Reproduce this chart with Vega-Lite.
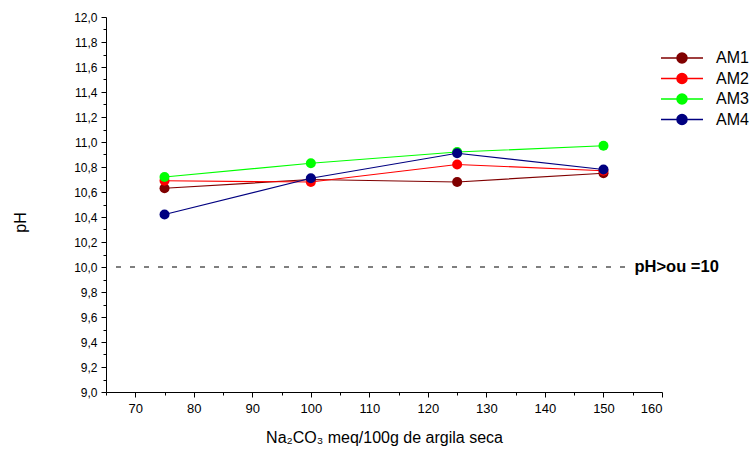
{
  "$schema": "https://vega.github.io/schema/vega-lite/v6.json",
  "width": 556,
  "height": 375,
  "autosize": {"type": "none"},
  "padding": {"left": 106, "top": 17, "right": 92, "bottom": 63},
  "background": "white",
  "config": {
    "view": {"stroke": null},
    "font": "Liberation Sans",
    "locale": {"number": {"decimal": ",", "thousands": ".", "grouping": [3], "currency": ["", ""]}},
    "axis": {"grid": false, "domainColor": "black", "tickColor": "black", "labelColor": "black", "titleColor": "black", "labelFont": "Liberation Sans", "titleFont": "Liberation Sans", "titleFontWeight": "normal"}
  },
  "datasets": {
    "pts": [
      {"amostra": "AM1", "x": 75, "ph": 10.63},
      {"amostra": "AM1", "x": 100, "ph": 10.70},
      {"amostra": "AM1", "x": 125, "ph": 10.68},
      {"amostra": "AM1", "x": 150, "ph": 10.75},
      {"amostra": "AM2", "x": 75, "ph": 10.69},
      {"amostra": "AM2", "x": 100, "ph": 10.68},
      {"amostra": "AM2", "x": 125, "ph": 10.82},
      {"amostra": "AM2", "x": 150, "ph": 10.77},
      {"amostra": "AM3", "x": 75, "ph": 10.72},
      {"amostra": "AM3", "x": 100, "ph": 10.83},
      {"amostra": "AM3", "x": 125, "ph": 10.92},
      {"amostra": "AM3", "x": 150, "ph": 10.97},
      {"amostra": "AM4", "x": 75, "ph": 10.42},
      {"amostra": "AM4", "x": 100, "ph": 10.71},
      {"amostra": "AM4", "x": 125, "ph": 10.91},
      {"amostra": "AM4", "x": 150, "ph": 10.78}
    ],
    "ref": [{"x": 65, "x2": 153.8, "ph": 10, "label": "pH>ou =10", "lx": 155.3}]
  },
  "resolve": {"axis": {"x": "independent", "y": "independent"}},
  "layer": [
    {
      "data": {"name": "pts"},
      "mark": {"type": "line", "strokeWidth": 1.2, "point": {"filled": true, "size": 100, "opacity": 1}},
      "encoding": {
        "x": {"field": "x", "type": "quantitative", "scale": {"domain": [65, 160], "nice": false, "zero": false},
              "axis": {"orient": "bottom", "values": [70, 80, 90, 100, 110, 120, 130, 140, 150, 160], "format": "d", "tickSize": 5, "labelFontSize": 13, "labelPadding": 5,
                       "title": "Na₂CO₃ meq/100g de argila seca", "titleFontSize": 16, "titlePadding": 14}},
        "y": {"field": "ph", "type": "quantitative", "scale": {"domain": [9, 12], "nice": false, "zero": false},
              "axis": {"orient": "left", "values": [9, 9.2, 9.4, 9.6, 9.8, 10, 10.2, 10.4, 10.6, 10.8, 11, 11.2, 11.4, 11.6, 11.8, 12], "format": ".1f", "tickSize": 5, "labelFontSize": 12, "labelPadding": 4,
                       "title": "pH", "titleFontSize": 16, "titleX": -78, "titleY": 205, "titleAngle": -90}},
        "color": {"field": "amostra", "type": "nominal",
                  "scale": {"domain": ["AM1", "AM2", "AM3", "AM4"], "range": ["#800000", "#FF0000", "#00FF00", "#000080"]},
                  "legend": {"title": null, "orient": "none", "legendX": 568, "legendY": 33, "labelFontSize": 16, "labelFont": "Liberation Sans", "labelColor": "black", "labelOffset": 26,
                             "symbolType": "M-4.2,0L4.2,0M-1,0A1,1,0,1,1,1,0A1,1,0,1,1,-1,0Z", "symbolSize": 100, "symbolStrokeWidth": 1.5, "rowPadding": 4.5, "padding": 0}}
      }
    },
    {
      "data": {"name": "pts"},
      "mark": {"type": "point", "opacity": 0},
      "encoding": {
        "x": {"field": "x", "type": "quantitative",
              "axis": {"orient": "bottom", "values": [65, 75, 85, 95, 105, 115, 125, 135, 145, 155], "labels": false, "tickSize": 3, "domain": false, "title": null}},
        "y": {"field": "ph", "type": "quantitative",
              "axis": {"orient": "left", "values": [9.1, 9.3, 9.5, 9.7, 9.9, 10.1, 10.3, 10.5, 10.7, 10.9, 11.1, 11.3, 11.5, 11.7, 11.9], "labels": false, "tickSize": 3, "domain": false, "title": null}}
      }
    },
    {
      "data": {"name": "ref"},
      "mark": {"type": "rule", "strokeDash": [5, 9], "strokeDashOffset": -10, "color": "black", "strokeWidth": 1.2},
      "encoding": {
        "x": {"field": "x", "type": "quantitative", "axis": null},
        "x2": {"field": "x2"},
        "y": {"field": "ph", "type": "quantitative", "axis": null}
      }
    },
    {
      "data": {"name": "ref"},
      "mark": {"type": "text", "align": "left", "baseline": "middle", "fontWeight": "bold", "fontSize": 16.5, "font": "Liberation Sans", "color": "black"},
      "encoding": {
        "x": {"field": "lx", "type": "quantitative", "axis": null},
        "y": {"field": "ph", "type": "quantitative", "axis": null},
        "text": {"field": "label"}
      }
    }
  ]
}
